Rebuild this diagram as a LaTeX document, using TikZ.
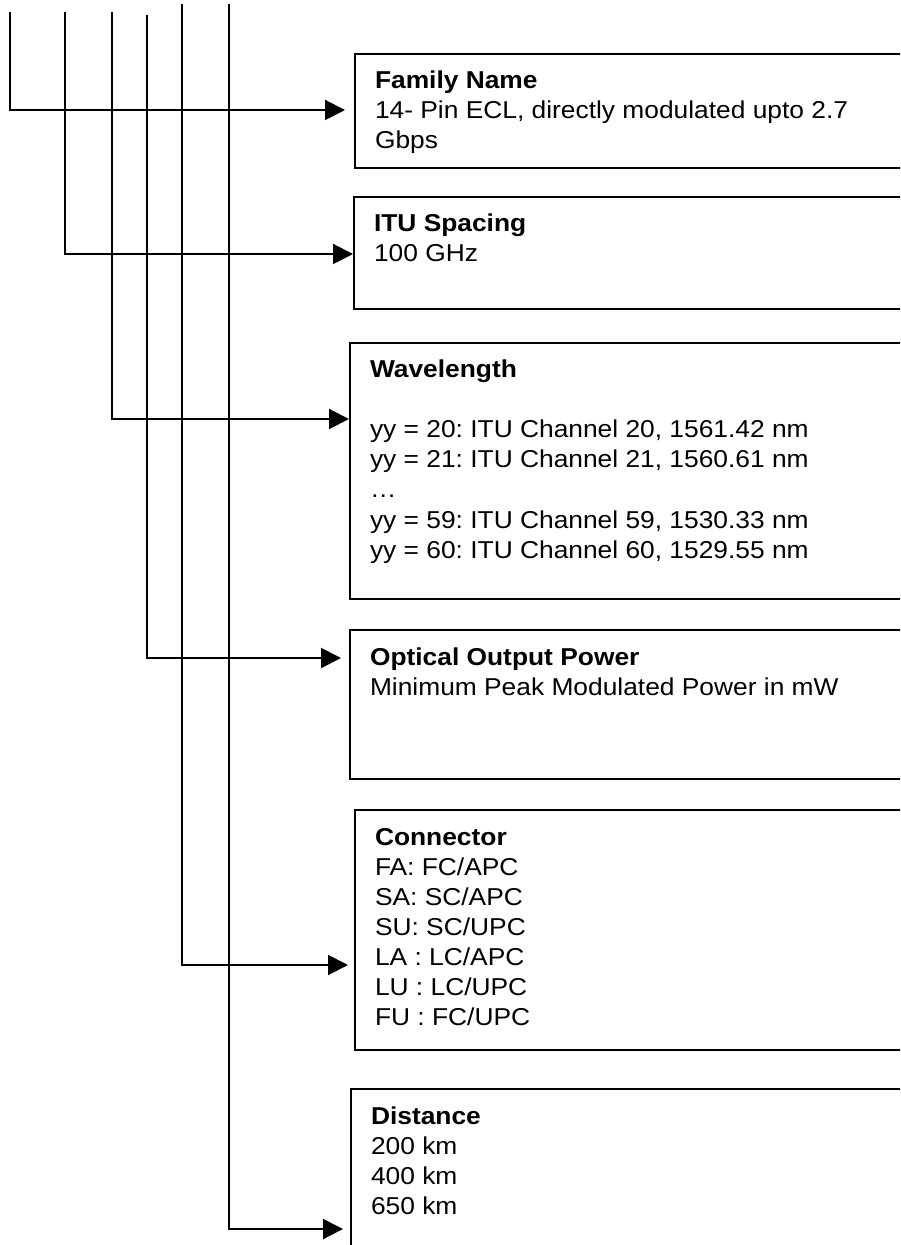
\documentclass[tikz,border=0pt]{standalone}
\usepackage{fontspec}
\setmainfont{Liberation Sans}[FakeStretch=1.08]
\usepackage{tikz}
\usetikzlibrary{arrows.meta, positioning}

% text block of a box: fixed height, top aligned
\newcommand{\boxtext}[2]{\parbox[t][#1][t]{280pt}{\frenchspacing\strut #2}}

\begin{document}
\begin{tikzpicture}[
  x=0.5pt, y=-0.5pt,
  box/.style={rectangle, draw=black, line width=1pt, anchor=north west,
              inner xsep=10pt, inner ysep=7pt, minimum width=300pt,
              font=\fontsize{12.2}{15}\selectfont},
  arrow/.style={-{Triangle[length=10pt, width=10pt]}, line width=1pt}
]
\useasboundingbox (0,0) rectangle (900,1245);
\clip (0,0) rectangle (900,1245);

\node[box] (family) at (354,53) {\boxtext{43pt}{\textbf{Family Name}\\
  14- Pin ECL, directly modulated upto 2.7\\Gbps}};

\node[box] (itu) at (353,196) {\boxtext{42pt}{\textbf{ITU Spacing}\\100 GHz}};

\node[box] (wave) at (349,342) {\boxtext{114pt}{\textbf{Wavelength}\\[15pt]
  yy = 20: ITU Channel 20, 1561.42 nm\\
  yy = 21: ITU Channel 21, 1560.61 nm\\
  …\\
  yy = 59: ITU Channel 59, 1530.33 nm\\
  yy = 60: ITU Channel 60, 1529.55 nm}};

\node[box] (power) at (349,629) {\boxtext{60.5pt}{\textbf{Optical Output Power}\\
  Minimum Peak Modulated Power in mW}};

\node[box] (conn) at (354,809) {\boxtext{106pt}{\textbf{Connector}\\
  FA: FC/APC\\SA: SC/APC\\SU: SC/UPC\\LA : LC/APC\\LU : LC/UPC\\FU : FC/UPC}};

\node[box] (dist) at (350,1088) {\boxtext{86pt}{\textbf{Distance}\\
  200 km\\400 km\\650 km}};

% tops and corners of the feed lines
\coordinate (top1) at (10,12);
\coordinate (top2) at (65,12);
\coordinate (top3) at (112,12);
\coordinate (top4) at (147,15);
\coordinate (top5) at (182,4);
\coordinate (top6) at (229,4);
\coordinate (bend1) at (10,110);
\coordinate (bend2) at (65,254);
\coordinate (bend3) at (112,419);
\coordinate (bend4) at (147,658);
\coordinate (bend5) at (182,965);
\coordinate (bend6) at (229,1229);

\draw[arrow, shorten >=4.5pt] (top1) -- (bend1) -- (family.west |- bend1);
\draw[arrow] (top2) -- (bend2) -- (itu.west |- bend2);
\draw[arrow] (top3) -- (bend3) -- (wave.west |- bend3);
\draw[arrow, shorten >=4pt] (top4) -- (bend4) -- (power.west |- bend4);
\draw[arrow, shorten >=3pt] (top5) -- (bend5) -- (conn.west |- bend5);
\draw[arrow, shorten >=3.5pt] (top6) -- (bend6) -- (dist.west |- bend6);

\end{tikzpicture}
\end{document}
